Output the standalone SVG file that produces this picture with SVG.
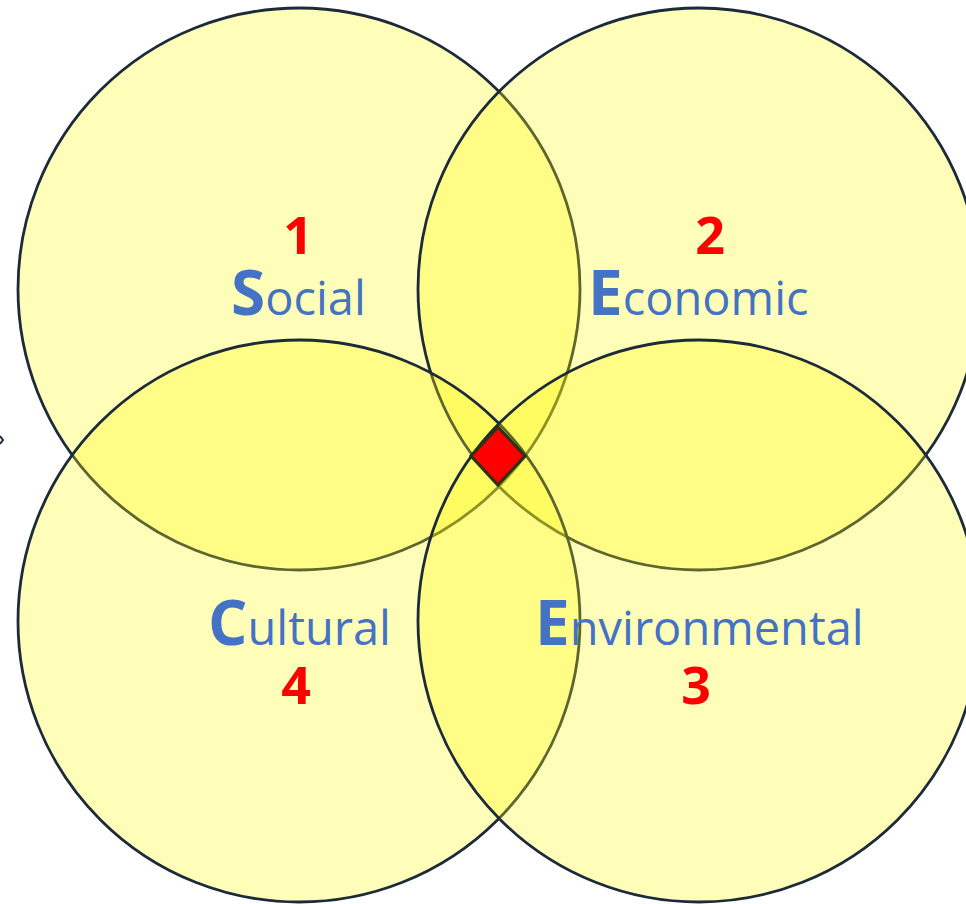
<svg xmlns="http://www.w3.org/2000/svg" width="966" height="904" viewBox="0 0 966 904">
  <style>
    .ring { fill: rgba(255, 252, 10, 0.29); stroke: #1c2a3a; stroke-width: 2.8; }
    .word { font-family: "Open Sans", "Noto Sans", sans-serif; font-size: 47px; fill: #4472c4; }
    .cap { font-size: 62px; font-weight: 700; }
    .num { font-family: "Open Sans", "Noto Sans", sans-serif; font-size: 52px; font-weight: 700; fill: #ff0000; text-anchor: middle; }
  </style>
  <rect width="966" height="904" fill="#ffffff"/>

  <!-- small edge mark -->
  <path d="M0,436 L3,440 L0,444" fill="none" stroke="#1c2a3a" stroke-width="2"/>

  <!-- the four pillars, drawn upper pair first so the lower pair overlays them -->
  <g id="social">
    <circle class="ring" cx="299" cy="289" r="281"/>
  </g>
  <g id="economic">
    <circle class="ring" cx="699" cy="289" r="281"/>
  </g>
  <g id="cultural">
    <circle class="ring" cx="299" cy="621" r="281"/>
  </g>
  <g id="environmental">
    <circle class="ring" cx="699" cy="621" r="281"/>
  </g>

  <!-- labels -->
  <g id="social-label">
    <text class="num" x="298" y="254">1</text>
    <text class="word" x="231" y="315"><tspan class="cap">S</tspan>ocial</text>
  </g>
  <g id="economic-label">
    <text class="num" x="710" y="254">2</text>
    <text class="word" x="588" y="315"><tspan class="cap">E</tspan>conomic</text>
  </g>
  <g id="cultural-label">
    <text class="word" x="208" y="645"><tspan class="cap">C</tspan>ultural</text>
    <text class="num" x="296" y="704">4</text>
  </g>
  <g id="environmental-label">
    <text class="word" x="535" y="645"><tspan class="cap">E</tspan>nvironmental</text>
    <text class="num" x="696" y="704">3</text>
  </g>

  <!-- shared centre where all four overlap -->
  <g id="centre">
    <polygon points="498,427 525,456 498,485 471,456" fill="#ff0000" stroke="#2e3210" stroke-width="3.2" stroke-linejoin="miter"/>
  </g>
</svg>
